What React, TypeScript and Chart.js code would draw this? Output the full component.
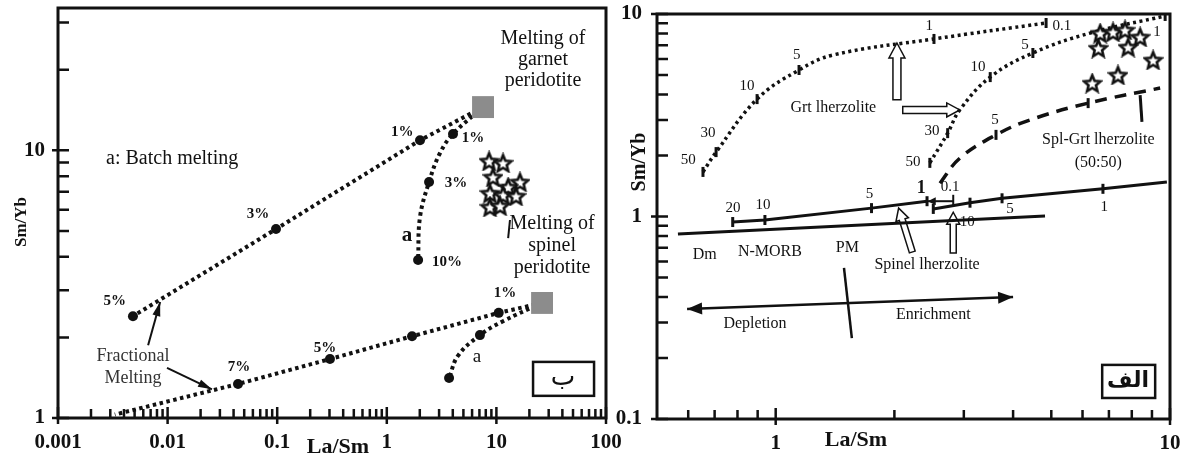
import React, { useEffect, useRef } from "react";
import { Chart, registerables } from "chart.js";
Chart.register(...registerables);

const SERIF = "'Liberation Serif', 'Times New Roman', serif";
const ARABIC = "'DejaVu Sans', 'Noto Sans', sans-serif";
const INK = "#111";

// ---------------- Left panel (ب) data ----------------
const L_X_TICKS = [0.001, 0.01, 0.1, 1, 10, 100];
const L_X_LABELS = ["0.001", "0.01", "0.1", "1", "10", "100"];
const L_Y_TICKS = [1, 10];
const L_Y_LABELS = ["1", "10"];

const GARNET_SRC_X = [7.55];
const GARNET_SRC_Y = [14.5];
const SPINEL_SRC_X = [26.1];
const SPINEL_SRC_Y = [2.69];

const GF_X = [7.55, 2.01, 0.0975, 0.00483];
const GF_Y = [14.5, 10.9, 5.08, 2.4];
const GF_MARK = [0, 1, 1, 1];

const GB_X = [7.55, 4.02, 3.06, 2.43, 2.01, 1.93];
const GB_Y = [14.5, 11.5, 9.77, 7.61, 5.64, 3.89];
const GB_MARK = [0, 1, 0, 1, 0, 1];

const SF_X = [26.1, 10.5, 1.7, 0.303, 0.0439, 0.0033];
const SF_Y = [2.69, 2.47, 2.02, 1.66, 1.34, 1.03];
const SF_MARK = [0, 1, 1, 1, 1, 0];

const SB_X = [26.1, 11.5, 7.08, 4.47, 3.7];
const SB_Y = [2.69, 2.3, 2.04, 1.71, 1.41];
const SB_MARK = [0, 0, 1, 0, 1];

const STAR_L_X = [8.58, 11.5, 9.31, 16.4, 12.8, 8.74, 11.5, 15.1, 8.74, 10.8];
const STAR_L_Y = [9.12, 8.97, 7.95, 7.62, 7.29, 6.92, 6.81, 6.75, 6.14, 6.2];

// ---------------- Right panel (الف) data ----------------
const R_X_TICKS = [1, 10];
const R_X_LABELS = ["1", "10"];
const R_Y_TICKS = [0.1, 1, 10];
const R_Y_LABELS = ["0.1", "1", "10"];

const GRT1_X = [0.654, 0.706, 0.897, 1.146, 1.4, 2.52, 4.85];
const GRT1_Y = [1.66, 2.08, 3.8, 5.29, 6.28, 7.53, 9.03];
const GRT1_MARK = [1, 1, 1, 1, 0, 1, 1];

const GRT2_X = [2.46, 2.73, 2.93, 3.5, 4.49, 6.27, 9.72];
const GRT2_Y = [1.84, 2.58, 3.36, 4.88, 6.42, 8.05, 9.78];
const GRT2_MARK = [1, 1, 0, 1, 1, 0, 1];

const SPLGRT_X = [2.61, 2.93, 3.62, 4.42, 6.2, 9.44];
const SPLGRT_Y = [1.46, 1.94, 2.53, 3.0, 3.63, 4.31];
const SPLGRT_MARK = [0, 0, 1, 0, 1, 0];

const SEG1_X = [0.778, 0.939, 1.75, 2.42];
const SEG1_Y = [0.939, 0.961, 1.1, 1.19];
const SEG1_MARK = [1, 1, 1, 1];

const SEG2_X = [2.51, 3.11, 3.75, 6.76, 9.82];
const SEG2_Y = [1.09, 1.17, 1.23, 1.37, 1.48];
const SEG2_MARK = [1, 1, 1, 1, 0];

const LINEB_X = [0.565, 4.82];
const LINEB_Y = [0.82, 1.006];

const DEPL_X = [0.596, 4.0];
const DEPL_Y = [0.349, 0.4];

const PM_X = [1.49, 1.56];
const PM_Y = [0.557, 0.251];

const STAR_R_X = [6.65, 7.17, 7.69, 8.4, 6.58, 7.83, 9.06, 6.35, 7.38];
const STAR_R_Y = [8.05, 8.15, 8.34, 7.7, 6.79, 6.87, 5.93, 4.56, 5.0];

// ---------------- annotation types ----------------
type TextAnn = { t: string; x: number; y: number; size: number; bold?: boolean; color?: string; lh?: number; family?: string };
type Seg = { x1: number; y1: number; x2: number; y2: number; w?: number };
type Hollow = Seg & { shaft: number; head: number; hl: number };
type Head = Seg & { len: number; hw: number };
type BoxAnn = { x1: number; y1: number; x2: number; y2: number };

const L_TEXTS: TextAnn[] = [
  { t: "a: Batch melting", x: 0.011, y: 9.28, size: 20 },
  { t: "Melting of\ngarnet\nperidotite", x: 26.6, y: 26.0, size: 20, lh: 21 },
  { t: "Melting of\nspinel\nperidotite", x: 32.2, y: 5.31, size: 20, lh: 22 },
  { t: "1%", x: 1.38, y: 11.7, size: 15, bold: true },
  { t: "1%", x: 6.11, y: 11.1, size: 15, bold: true },
  { t: "3%", x: 4.28, y: 7.55, size: 15, bold: true },
  { t: "10%", x: 3.54, y: 3.83, size: 15, bold: true },
  { t: "3%", x: 0.0668, y: 5.78, size: 15, bold: true },
  { t: "5%", x: 0.0033, y: 2.74, size: 15, bold: true },
  { t: "7%", x: 0.0449, y: 1.55, size: 15, bold: true },
  { t: "5%", x: 0.273, y: 1.83, size: 15, bold: true },
  { t: "1%", x: 12.0, y: 2.93, size: 15, bold: true },
  { t: "a", x: 1.53, y: 4.79, size: 21, bold: true },
  { t: "a", x: 6.65, y: 1.69, size: 19 },
  { t: "Fractional\nMelting", x: 0.00483, y: 1.7, size: 18, lh: 22, color: "#333" },
  { t: "ب", x: 40.5, y: 1.41, size: 26, family: ARABIC },
];
const L_SEGS: Seg[] = [
  { x1: 0.00664, y1: 1.87, x2: 0.00855, y2: 2.71, w: 2 },
  { x1: 0.00988, y1: 1.54, x2: 0.0254, y2: 1.28, w: 2 },
  { x1: 13.3, y1: 5.49, x2: 12.8, y2: 4.7, w: 2 },
];
const L_HEADS: Head[] = [
  { x1: 0.00664, y1: 1.87, x2: 0.00855, y2: 2.71, len: 14, hw: 4 },
  { x1: 0.00988, y1: 1.54, x2: 0.0254, y2: 1.28, len: 14, hw: 4 },
];
const L_BOXES: BoxAnn[] = [{ x1: 21.6, y1: 1.62, x2: 77.8, y2: 1.21 }];

const R_TEXTS: TextAnn[] = [
  { t: "Grt lherzolite", x: 1.4, y: 3.43, size: 16 },
  { t: "Spl-Grt lherzolite\n(50:50)", x: 6.58, y: 2.39, size: 16, lh: 23 },
  { t: "Dm", x: 0.661, y: 0.645, size: 16 },
  { t: "N-MORB", x: 0.967, y: 0.668, size: 16 },
  { t: "PM", x: 1.52, y: 0.699, size: 16 },
  { t: "Spinel lherzolite", x: 2.42, y: 0.576, size: 16 },
  { t: "Depletion", x: 0.886, y: 0.294, size: 16 },
  { t: "Enrichment", x: 2.51, y: 0.326, size: 16 },
  { t: "50", x: 0.6, y: 1.9, size: 15 },
  { t: "30", x: 0.673, y: 2.58, size: 15 },
  { t: "10", x: 0.846, y: 4.41, size: 15 },
  { t: "5", x: 1.13, y: 6.28, size: 15 },
  { t: "1", x: 2.45, y: 8.73, size: 15 },
  { t: "0.1", x: 5.32, y: 8.73, size: 15 },
  { t: "50", x: 2.23, y: 1.86, size: 15 },
  { t: "30", x: 2.49, y: 2.64, size: 15 },
  { t: "10", x: 3.26, y: 5.47, size: 15 },
  { t: "5", x: 4.29, y: 7.03, size: 15 },
  { t: "1", x: 9.27, y: 8.15, size: 15 },
  { t: "5", x: 3.6, y: 3.0, size: 15 },
  { t: "20", x: 0.779, y: 1.1, size: 15 },
  { t: "10", x: 0.929, y: 1.14, size: 15 },
  { t: "5", x: 1.73, y: 1.29, size: 15 },
  { t: "1", x: 2.34, y: 1.37, size: 18, bold: true },
  { t: "0.1", x: 2.77, y: 1.4, size: 15 },
  { t: "10", x: 3.06, y: 0.94, size: 15 },
  { t: "5", x: 3.93, y: 1.09, size: 15 },
  { t: "1", x: 6.81, y: 1.11, size: 15 },
  { t: "الف", x: 7.83, y: 0.154, size: 22, bold: true, family: ARABIC },
];
const R_SEGS: Seg[] = [
  { x1: 8.4, y1: 3.98, x2: 8.49, y2: 2.93, w: 3 },
  { x1: 2.82, y1: 1.19, x2: 2.43, y2: 1.19, w: 2 },
  { x1: 2.82, y1: 1.28, x2: 2.82, y2: 1.13, w: 2 },
];
const R_HEADS: Head[] = [
  { x1: DEPL_X[1], y1: DEPL_Y[1], x2: DEPL_X[0], y2: DEPL_Y[0], len: 15, hw: 6 },
  { x1: DEPL_X[0], y1: DEPL_Y[0], x2: DEPL_X[1], y2: DEPL_Y[1], len: 15, hw: 6 },
  { x1: 2.82, y1: 1.19, x2: 2.43, y2: 1.19, len: 8, hw: 4 },
];
const R_HOLLOW: Hollow[] = [
  { x1: 2.03, y1: 3.77, x2: 2.03, y2: 7.19, shaft: 8, head: 16, hl: 15 },
  { x1: 2.1, y1: 3.36, x2: 2.93, y2: 3.36, shaft: 7, head: 14, hl: 13 },
  { x1: 2.22, y1: 0.668, x2: 2.05, y2: 1.1, shaft: 6, head: 13, hl: 12 },
  { x1: 2.82, y1: 0.66, x2: 2.82, y2: 1.05, shaft: 6, head: 13, hl: 12 },
];
const R_BOXES: BoxAnn[] = [{ x1: 6.73, y1: 0.185, x2: 9.17, y2: 0.127 }];

// ---------------- helpers ----------------
const pts = (xs: number[], ys: number[]) => xs.map((x, i) => ({ x, y: ys[i] }));

function minors(min: number, max: number) {
  const out: number[] = [];
  for (let e = Math.floor(Math.log10(min)); e < Math.log10(max); e++) {
    for (let k = 2; k <= 9; k++) {
      const v = k * Math.pow(10, e);
      if (v > min * 1.0001 && v < max * 0.9999) out.push(v);
    }
  }
  return out;
}

function makeStar(size: number, lw: number) {
  const c = document.createElement("canvas");
  c.width = size;
  c.height = size;
  const ctx = c.getContext("2d")!;
  const R = size / 2 - lw / 2 - 0.5;
  const r = R * 0.45;
  ctx.beginPath();
  for (let i = 0; i < 10; i++) {
    const a = -Math.PI / 2 + (i * Math.PI) / 5;
    const rad = i % 2 === 0 ? R : r;
    ctx.lineTo(size / 2 + rad * Math.cos(a), size / 2 + rad * Math.sin(a) + 1);
  }
  ctx.closePath();
  ctx.fillStyle = "#fff";
  ctx.fill();
  ctx.lineWidth = lw;
  ctx.strokeStyle = INK;
  ctx.stroke();
  return c;
}

function logAxis(min: number, max: number, ticks: number[], labels: string[], size: (s: any) => void, padding: number) {
  return {
    type: "logarithmic" as const,
    min,
    max,
    bounds: "data" as const,
    grid: { display: false, drawTicks: false },
    border: { display: false },
    afterBuildTicks: (s: any) => {
      s.ticks = ticks.map((v) => ({ value: v }));
    },
    afterFit: (s: any) => {
      size(s);
      s.paddingTop = 0;
      s.paddingBottom = 0;
      s.paddingLeft = 0;
      s.paddingRight = 0;
    },
    ticks: {
      autoSkip: false,
      maxRotation: 0,
      minRotation: 0,
      padding,
      color: INK,
      font: { family: SERIF, size: 21, weight: "bold" as const },
      callback: (_v: any, i: number) => labels[i],
    },
  };
}

type DecorCfg = {
  id: string;
  texts: TextAnn[];
  segs: Seg[];
  heads: Head[];
  hollow: Hollow[];
  boxes: BoxAnn[];
  xMajor: number[];
  yMajor: number[];
  xMinor: number[];
  yMinor: number[];
  titles: { t: string; x: number; y: number; size: number; rot?: boolean }[];
};

function decor(cfg: DecorCfg) {
  const P = (chart: any, x: number, y: number) => [chart.scales.x.getPixelForValue(x), chart.scales.y.getPixelForValue(y)];
  return {
    id: cfg.id,
    beforeDatasetsDraw(chart: any) {
      const ctx = chart.ctx;
      ctx.save();
      for (const h of cfg.hollow) {
        const [x1, y1] = P(chart, h.x1, h.y1);
        const [x2, y2] = P(chart, h.x2, h.y2);
        const L = Math.hypot(x2 - x1, y2 - y1);
        const ux = (x2 - x1) / L, uy = (y2 - y1) / L;
        const nx = -uy, ny = ux;
        const bx = x2 - ux * h.hl, by = y2 - uy * h.hl;
        const s = h.shaft / 2, w = h.head / 2;
        ctx.beginPath();
        ctx.moveTo(x1 + nx * s, y1 + ny * s);
        ctx.lineTo(bx + nx * s, by + ny * s);
        ctx.lineTo(bx + nx * w, by + ny * w);
        ctx.lineTo(x2, y2);
        ctx.lineTo(bx - nx * w, by - ny * w);
        ctx.lineTo(bx - nx * s, by - ny * s);
        ctx.lineTo(x1 - nx * s, y1 - ny * s);
        ctx.closePath();
        ctx.fillStyle = "#fff";
        ctx.fill();
        ctx.lineWidth = 1.5;
        ctx.strokeStyle = INK;
        ctx.stroke();
      }
      ctx.restore();
    },
    afterDatasetsDraw(chart: any) {
      const ctx = chart.ctx;
      ctx.save();
      ctx.strokeStyle = INK;
      ctx.fillStyle = INK;
      for (const s of cfg.segs) {
        const [x1, y1] = P(chart, s.x1, s.y1);
        const [x2, y2] = P(chart, s.x2, s.y2);
        ctx.lineWidth = s.w || 2;
        ctx.beginPath();
        ctx.moveTo(x1, y1);
        ctx.lineTo(x2, y2);
        ctx.stroke();
      }
      for (const h of cfg.heads) {
        const [x1, y1] = P(chart, h.x1, h.y1);
        const [x2, y2] = P(chart, h.x2, h.y2);
        const L = Math.hypot(x2 - x1, y2 - y1);
        const ux = (x2 - x1) / L, uy = (y2 - y1) / L;
        const nx = -uy, ny = ux;
        const bx = x2 - ux * h.len, by = y2 - uy * h.len;
        ctx.beginPath();
        ctx.moveTo(x2, y2);
        ctx.lineTo(bx + nx * h.hw, by + ny * h.hw);
        ctx.lineTo(bx - nx * h.hw, by - ny * h.hw);
        ctx.closePath();
        ctx.fill();
      }
      for (const b of cfg.boxes) {
        const [x1, y1] = P(chart, b.x1, b.y1);
        const [x2, y2] = P(chart, b.x2, b.y2);
        ctx.fillStyle = "#fff";
        ctx.fillRect(x1, y1, x2 - x1, y2 - y1);
        ctx.lineWidth = 2.5;
        ctx.strokeRect(x1, y1, x2 - x1, y2 - y1);
        ctx.fillStyle = INK;
      }
      ctx.textAlign = "center";
      ctx.textBaseline = "middle";
      for (const a of cfg.texts) {
        const [px, py] = P(chart, a.x, a.y);
        ctx.font = `${a.bold ? "bold " : ""}${a.size}px ${a.family || SERIF}`;
        ctx.fillStyle = a.color || INK;
        a.t.split("\n").forEach((line, i) => ctx.fillText(line, px, py + i * (a.lh || a.size)));
      }
      ctx.restore();
    },
    afterDraw(chart: any) {
      const ctx = chart.ctx;
      const { left, right, top, bottom } = chart.chartArea;
      const xs = chart.scales.x, ys = chart.scales.y;
      ctx.save();
      ctx.strokeStyle = INK;
      ctx.lineWidth = 3;
      ctx.strokeRect(left, top, right - left, bottom - top);
      ctx.lineWidth = 2.5;
      ctx.beginPath();
      for (const v of cfg.yMinor) {
        const py = ys.getPixelForValue(v);
        ctx.moveTo(left, py);
        ctx.lineTo(left + 11, py);
      }
      for (const v of cfg.yMajor) {
        const py = ys.getPixelForValue(v);
        ctx.moveTo(left - 6, py);
        ctx.lineTo(left + 11, py);
      }
      for (const v of cfg.xMinor) {
        const px = xs.getPixelForValue(v);
        ctx.moveTo(px, bottom);
        ctx.lineTo(px, bottom - 9);
      }
      for (const v of cfg.xMajor) {
        const px = xs.getPixelForValue(v);
        ctx.moveTo(px, bottom + 6);
        ctx.lineTo(px, bottom - 11);
      }
      ctx.stroke();
      ctx.fillStyle = INK;
      ctx.textAlign = "center";
      ctx.textBaseline = "middle";
      for (const t of cfg.titles) {
        ctx.font = `bold ${t.size}px ${SERIF}`;
        if (t.rot) {
          ctx.save();
          ctx.translate(t.x, t.y);
          ctx.rotate(-Math.PI / 2);
          ctx.fillText(t.t, 0, 0);
          ctx.restore();
        } else ctx.fillText(t.t, t.x, t.y);
      }
      ctx.restore();
    },
  };
}

const dotted = { borderDash: [3.5, 3.5], borderWidth: 4 };

function leftConfig(star: HTMLCanvasElement): any {
  const circ = (m: number[]) => ({
    pointRadius: m.map((v) => (v ? 5 : 0)),
    pointStyle: "circle",
    pointBackgroundColor: INK,
    pointBorderWidth: 0,
  });
  return {
    type: "scatter",
    data: {
      datasets: [
        { data: pts(GARNET_SRC_X, GARNET_SRC_Y), pointStyle: "rect", pointRadius: 15.5, pointBackgroundColor: "#8c8c8c", pointBorderWidth: 0 },
        { data: pts(SPINEL_SRC_X, SPINEL_SRC_Y), pointStyle: "rect", pointRadius: 15.5, pointBackgroundColor: "#8c8c8c", pointBorderWidth: 0 },
        { data: pts(STAR_L_X, STAR_L_Y), pointStyle: star, pointRadius: 9 },
        { data: pts(GF_X, GF_Y), showLine: true, borderColor: INK, ...dotted, tension: 0, ...circ(GF_MARK) },
        { data: pts(GB_X, GB_Y), showLine: true, borderColor: INK, ...dotted, tension: 0.4, ...circ(GB_MARK) },
        { data: pts(SF_X, SF_Y), showLine: true, borderColor: INK, ...dotted, tension: 0, ...circ(SF_MARK) },
        { data: pts(SB_X, SB_Y), showLine: true, borderColor: INK, ...dotted, tension: 0.4, ...circ(SB_MARK) },
      ],
    },
    options: {
      responsive: false,
      animation: false,
      events: [],
      layout: { autoPadding: false, padding: { left: 0, right: 34, top: 8, bottom: 0 } },
      plugins: { legend: { display: false }, tooltip: { enabled: false } },
      scales: {
        x: logAxis(0.001, 100, L_X_TICKS, L_X_LABELS, (s: any) => { s.height = 39; }, 12),
        y: logAxis(1, 34, L_Y_TICKS, L_Y_LABELS, (s: any) => { s.width = 58; }, 13),
      },
    },
    plugins: [
      decor({
        id: "decorL",
        texts: L_TEXTS,
        segs: L_SEGS,
        heads: L_HEADS,
        hollow: [],
        boxes: L_BOXES,
        xMajor: L_X_TICKS,
        yMajor: L_Y_TICKS,
        xMinor: minors(0.001, 100),
        yMinor: minors(1, 34),
        titles: [
          { t: "Sm/Yb", x: 22, y: 222, size: 17, rot: true },
          { t: "La/Sm", x: 338, y: 447, size: 22 },
        ],
      }),
    ],
  };
}

function rightConfig(star: HTMLCanvasElement): any {
  const tick = (m: number[]) => ({
    pointRadius: m.map((v) => (v ? 5 : 0)),
    pointStyle: "line",
    pointRotation: 90,
    pointBorderWidth: 3,
    pointBorderColor: INK,
  });
  const solid = { showLine: true, borderColor: INK, borderWidth: 3, tension: 0 };
  return {
    type: "scatter",
    data: {
      datasets: [
        { data: pts(STAR_R_X, STAR_R_Y), pointStyle: star, pointRadius: 9 },
        { data: pts(GRT1_X, GRT1_Y), showLine: true, borderColor: INK, borderDash: [3, 3.5], borderWidth: 3.5, tension: 0.4, ...tick(GRT1_MARK) },
        { data: pts(GRT2_X, GRT2_Y), showLine: true, borderColor: INK, borderDash: [3, 3.5], borderWidth: 3.5, tension: 0.4, ...tick(GRT2_MARK) },
        { data: pts(SPLGRT_X, SPLGRT_Y), showLine: true, borderColor: INK, borderDash: [12, 8], borderWidth: 3.5, tension: 0.4, ...tick(SPLGRT_MARK) },
        { data: pts(SEG1_X, SEG1_Y), ...solid, ...tick(SEG1_MARK) },
        { data: pts(SEG2_X, SEG2_Y), ...solid, ...tick(SEG2_MARK) },
        { data: pts(LINEB_X, LINEB_Y), ...solid, pointRadius: 0 },
        { data: pts(DEPL_X, DEPL_Y), ...solid, borderWidth: 2.5, pointRadius: 0 },
        { data: pts(PM_X, PM_Y), ...solid, borderWidth: 2.5, pointRadius: 0 },
      ],
    },
    options: {
      responsive: false,
      animation: false,
      events: [],
      layout: { autoPadding: false, padding: { left: 0, right: 10, top: 14, bottom: 0 } },
      plugins: { legend: { display: false }, tooltip: { enabled: false } },
      scales: {
        x: logAxis(0.5, 10, R_X_TICKS, R_X_LABELS, (s: any) => { s.height = 38; }, 12),
        y: logAxis(0.1, 10, R_Y_TICKS, R_Y_LABELS, (s: any) => { s.width = 57; }, 15),
      },
    },
    plugins: [
      decor({
        id: "decorR",
        texts: R_TEXTS,
        segs: R_SEGS,
        heads: R_HEADS,
        hollow: R_HOLLOW,
        boxes: R_BOXES,
        xMajor: R_X_TICKS,
        yMajor: R_Y_TICKS,
        xMinor: minors(0.5, 10),
        yMinor: minors(0.1, 10),
        titles: [
          { t: "Sm/Yb", x: 40, y: 162, size: 20, rot: true },
          { t: "La/Sm", x: 256, y: 440, size: 22 },
        ],
      }),
    ],
  };
}

export default function App() {
  const leftRef = useRef<HTMLCanvasElement>(null);
  const rightRef = useRef<HTMLCanvasElement>(null);
  useEffect(() => {
    const star = makeStar(21, 2.6);
    const c1 = new Chart(leftRef.current!, leftConfig(star));
    const c2 = new Chart(rightRef.current!, rightConfig(star));
    return () => {
      c1.destroy();
      c2.destroy();
    };
  }, []);
  return (
    <div style={{ position: "absolute", left: 0, top: 0, width: 1180, height: 457, background: "#fff", overflow: "hidden" }}>
      <canvas ref={leftRef} width={640} height={457} style={{ position: "absolute", left: 0, top: 0 }} />
      <canvas ref={rightRef} width={580} height={457} style={{ position: "absolute", left: 600, top: 0 }} />
    </div>
  );
}
